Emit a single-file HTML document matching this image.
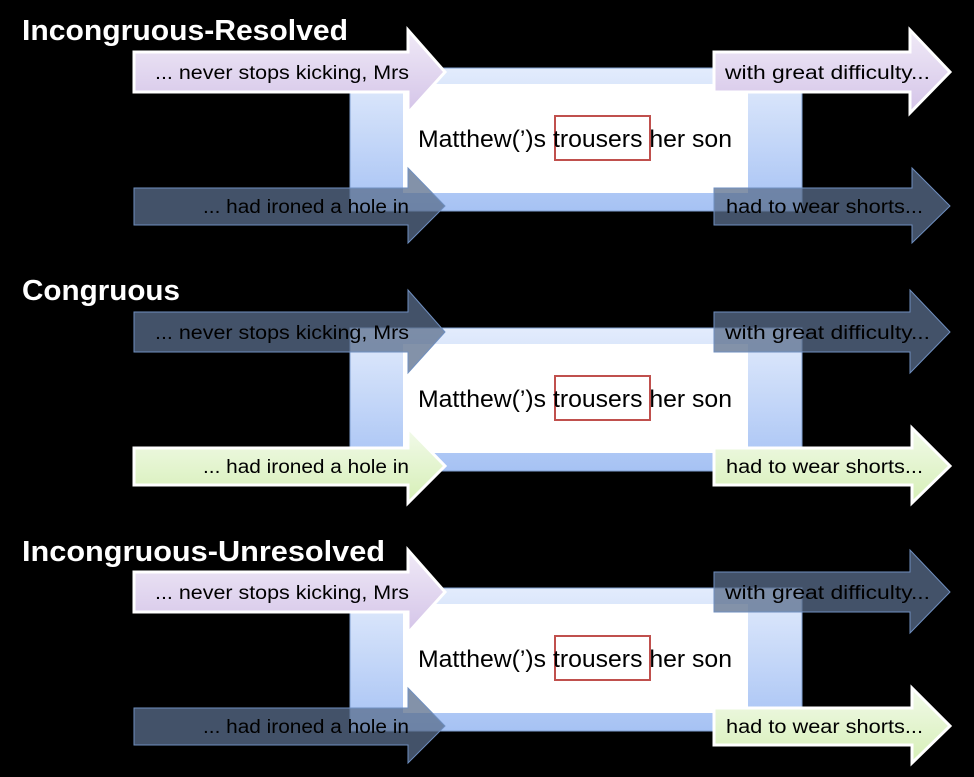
<!DOCTYPE html>
<html><head><meta charset="utf-8"><style>
html,body{margin:0;padding:0;background:#000;}
svg{display:block}
text{font-family:"Liberation Sans",sans-serif;}
</style></head><body>
<svg width="974" height="777" viewBox="0 0 974 777" xmlns="http://www.w3.org/2000/svg">
<defs>
<linearGradient id="fr" x1="0" y1="0" x2="0" y2="1"><stop offset="0" stop-color="#e3ecfc"/><stop offset="1" stop-color="#a6c2f4"/></linearGradient>
<linearGradient id="pu" x1="0" y1="0" x2="0" y2="1"><stop offset="0" stop-color="#f0eaf7"/><stop offset="1" stop-color="#d4c4e8"/></linearGradient>
<linearGradient id="gr" x1="0" y1="0" x2="0" y2="1"><stop offset="0" stop-color="#f2faea"/><stop offset="1" stop-color="#d6efb6"/></linearGradient>
<g id="frame">
<rect x="350" y="68" width="452" height="143" fill="url(#fr)" stroke="#7f9fd0" stroke-width="1"/>
<rect x="403" y="84" width="345" height="109" fill="#fff"/>
<rect x="555" y="116" width="95" height="44" fill="none" stroke="#c0504d" stroke-width="2"/>
<text x="418" y="147" font-size="24" textLength="314" lengthAdjust="spacingAndGlyphs" fill="#000">Matthew(’)s trousers her son</text>
</g>
</defs>

<g font-size="19">
<!-- Panel 1 -->
<g>
<text x="22" y="40" font-size="29" font-weight="bold" fill="#fff" textLength="326" lengthAdjust="spacingAndGlyphs">Incongruous-Resolved</text>
<use href="#frame"/>
<path d="M134,52 H408 V30 L445,72 L408,113 V92 H134 Z" fill="url(#pu)" stroke="#fff" stroke-width="3"/>
<text x="155" y="79" textLength="254" lengthAdjust="spacingAndGlyphs">... never stops kicking, Mrs</text>
<path d="M714,52 H910 V30 L950,72 L910,113 V92 H714 Z" fill="url(#pu)" stroke="#fff" stroke-width="3"/>
<text x="725" y="79" textLength="205" lengthAdjust="spacingAndGlyphs">with great difficulty...</text>
<path d="M134,188 H408 V168 L445,206 L408,243 V225 H134 Z" fill="#5a6e8c" fill-opacity="0.75" stroke="#6f8fc0" stroke-width="1"/>
<text x="203" y="213" textLength="206" lengthAdjust="spacingAndGlyphs">... had ironed a hole in</text>
<path d="M714,188 H912 V168 L950,206 L912,243 V225 H714 Z" fill="#5a6e8c" fill-opacity="0.75" stroke="#6f8fc0" stroke-width="1"/>
<text x="726" y="213" textLength="197" lengthAdjust="spacingAndGlyphs">had to wear shorts...</text>
</g>
<!-- Panel 2 -->
<g transform="translate(0,260)">
<text x="22" y="40" font-size="29" font-weight="bold" fill="#fff" textLength="158" lengthAdjust="spacingAndGlyphs">Congruous</text>
<use href="#frame"/>
<path d="M134,52 H408 V30 L445,72 L408,113 V92 H134 Z" fill="#5a6e8c" fill-opacity="0.75" stroke="#6f8fc0" stroke-width="1"/>
<text x="155" y="79" textLength="254" lengthAdjust="spacingAndGlyphs">... never stops kicking, Mrs</text>
<path d="M714,52 H910 V30 L950,72 L910,113 V92 H714 Z" fill="#5a6e8c" fill-opacity="0.75" stroke="#6f8fc0" stroke-width="1"/>
<text x="725" y="79" textLength="205" lengthAdjust="spacingAndGlyphs">with great difficulty...</text>
<path d="M134,188 H408 V168 L445,206 L408,243 V225 H134 Z" fill="url(#gr)" stroke="#fff" stroke-width="3"/>
<text x="203" y="213" textLength="206" lengthAdjust="spacingAndGlyphs">... had ironed a hole in</text>
<path d="M714,188 H912 V168 L950,206 L912,243 V225 H714 Z" fill="url(#gr)" stroke="#fff" stroke-width="3"/>
<text x="726" y="213" textLength="197" lengthAdjust="spacingAndGlyphs">had to wear shorts...</text>
</g>
<!-- Panel 3 -->
<g transform="translate(0,520)">
<text x="22" y="41" font-size="29" font-weight="bold" fill="#fff" textLength="363" lengthAdjust="spacingAndGlyphs">Incongruous-Unresolved</text>
<use href="#frame"/>
<path d="M134,52 H408 V30 L445,72 L408,113 V92 H134 Z" fill="url(#pu)" stroke="#fff" stroke-width="3"/>
<text x="155" y="79" textLength="254" lengthAdjust="spacingAndGlyphs">... never stops kicking, Mrs</text>
<path d="M714,52 H910 V30 L950,72 L910,113 V92 H714 Z" fill="#5a6e8c" fill-opacity="0.75" stroke="#6f8fc0" stroke-width="1"/>
<text x="725" y="79" textLength="205" lengthAdjust="spacingAndGlyphs">with great difficulty...</text>
<path d="M134,188 H408 V168 L445,206 L408,243 V225 H134 Z" fill="#5a6e8c" fill-opacity="0.75" stroke="#6f8fc0" stroke-width="1"/>
<text x="203" y="213" textLength="206" lengthAdjust="spacingAndGlyphs">... had ironed a hole in</text>
<path d="M714,188 H912 V168 L950,206 L912,243 V225 H714 Z" fill="url(#gr)" stroke="#fff" stroke-width="3"/>
<text x="726" y="213" textLength="197" lengthAdjust="spacingAndGlyphs">had to wear shorts...</text>
</g>
</g>
</svg>
</body></html>
